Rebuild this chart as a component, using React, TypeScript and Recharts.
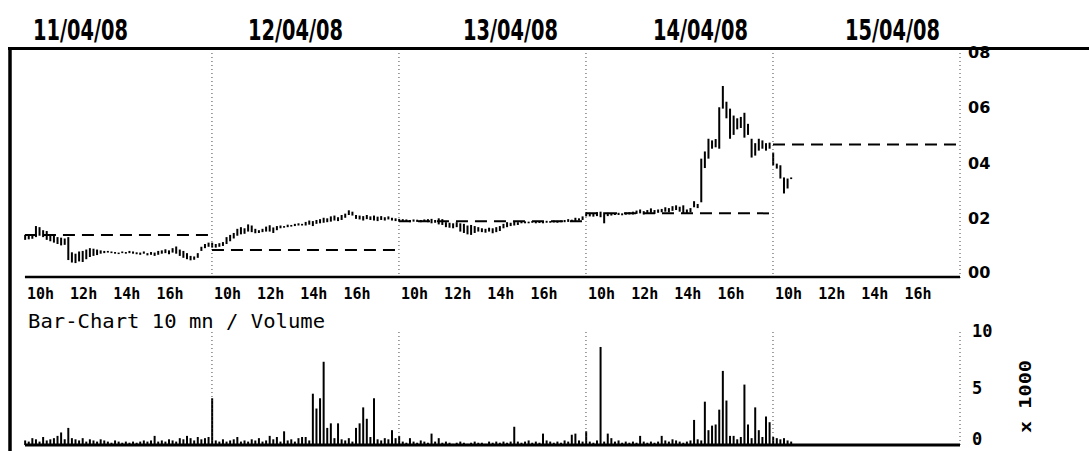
import { ComposedChart, Bar, XAxis, YAxis, ReferenceLine } from 'recharts';

// header dates and axis labels
const dates = ['11/04/08', '12/04/08', '13/04/08', '14/04/08', '15/04/08'];
const hourLabels = ['10h', '12h', '14h', '16h'];
const priceTicks = [0, 2, 4, 6, 8];
const priceLabels = ['00', '02', '04', '06', '08'];
const volumeTicks = [0, 5, 10];
const volumeLabels = ['0', '5', '10'];

const BARS_PER_DAY = 52; // 10 mn bars

// 10 mn bars, high / low, day by day
const highs = [
  1.38, 1.40, 1.36, 1.70, 1.66, 1.55, 1.52, 1.40, 1.35, 1.30, 1.28, 1.25, 1.30, 0.75, 0.70, 0.78, 0.80, 0.85, 0.90, 0.88,
  0.85, 0.82, 0.80, 0.80, 0.78, 0.76, 0.74, 0.78, 0.76, 0.80, 0.78, 0.75, 0.74, 0.78, 0.72, 0.76, 0.74, 0.80, 0.82, 0.86,
  0.82, 0.90, 0.96, 0.85, 0.80, 0.72, 0.62, 0.60, 0.72, 0.95, 1.05, 1.10,
  1.10, 1.05, 1.08, 1.12, 1.30, 1.38, 1.45, 1.60, 1.66, 1.62, 1.76, 1.72, 1.60, 1.55, 1.60, 1.68, 1.73, 1.65, 1.70, 1.72,
  1.70, 1.75, 1.74, 1.78, 1.80, 1.78, 1.85, 1.90, 1.88, 1.92, 1.95, 2.00, 1.98, 2.05, 2.08, 2.02, 2.10, 2.15, 2.27, 2.22,
  2.10, 2.08, 2.06, 2.10, 2.05, 2.08, 2.04, 2.06, 2.02, 2.05, 2.00, 1.98,
  1.96, 1.95, 1.94, 1.92, 1.94, 1.93, 1.92, 1.94, 1.95, 1.96, 1.92, 1.98, 1.95, 1.84, 1.82, 1.80, 1.84, 1.80, 1.78, 1.72,
  1.74, 1.70, 1.66, 1.62, 1.60, 1.64, 1.62, 1.66, 1.70, 1.78, 1.84, 1.82, 1.86, 1.84, 1.88, 1.87, 1.86, 1.88, 1.86, 1.88,
  1.87, 1.89, 1.88, 1.90, 1.89, 1.90, 1.92, 1.95, 1.93, 2.00, 1.98, 2.05,
  2.20, 2.18, 2.15, 2.20, 2.22, 2.20, 2.18, 2.16, 2.17, 2.18, 2.16, 2.19, 2.20, 2.22, 2.26, 2.30, 2.24, 2.28, 2.34, 2.28,
  2.30, 2.32, 2.38, 2.35, 2.42, 2.45, 2.40, 2.45, 2.30, 2.35, 2.60, 2.50, 4.14, 4.40, 4.86, 4.80, 4.85, 6.00, 6.77, 6.20,
  5.95, 5.70, 5.60, 5.65, 5.80, 5.40, 4.86, 4.70, 4.86, 4.80, 4.70, 4.72,
  4.36, 3.96, 3.90, 3.46, 3.42, 3.46,
];

const lows = [
  1.20, 1.22, 1.24, 1.30, 1.35, 1.30, 1.20, 1.15, 1.10, 1.05, 1.00, 1.02, 0.47, 0.38, 0.36, 0.42, 0.40, 0.50, 0.58, 0.62,
  0.65, 0.70, 0.72, 0.74, 0.72, 0.70, 0.70, 0.72, 0.70, 0.72, 0.70, 0.68, 0.66, 0.70, 0.64, 0.66, 0.62, 0.66, 0.70, 0.72,
  0.68, 0.74, 0.70, 0.62, 0.55, 0.50, 0.46, 0.48, 0.55, 0.80, 0.90, 0.95,
  0.92, 0.92, 0.95, 0.98, 1.05, 1.15, 1.25, 1.35, 1.40, 1.42, 1.50, 1.48, 1.44, 1.45, 1.48, 1.50, 1.50, 1.45, 1.55, 1.62,
  1.64, 1.66, 1.68, 1.70, 1.72, 1.72, 1.72, 1.75, 1.70, 1.78, 1.80, 1.82, 1.84, 1.86, 1.90, 1.88, 1.92, 2.00, 2.10, 2.08,
  1.96, 1.94, 1.90, 1.95, 1.92, 1.90, 1.88, 1.92, 1.90, 1.94, 1.90, 1.88,
  1.86, 1.85, 1.86, 1.84, 1.86, 1.85, 1.84, 1.86, 1.84, 1.80, 1.82, 1.76, 1.74, 1.66, 1.64, 1.62, 1.66, 1.50, 1.45, 1.40,
  1.38, 1.45, 1.50, 1.48, 1.46, 1.50, 1.44, 1.48, 1.52, 1.62, 1.66, 1.70, 1.72, 1.74, 1.80, 1.80, 1.80, 1.82, 1.80, 1.81,
  1.80, 1.82, 1.82, 1.83, 1.82, 1.84, 1.84, 1.85, 1.86, 1.88, 1.90, 1.92,
  2.05, 2.05, 2.04, 2.06, 2.02, 1.80, 2.06, 2.08, 2.10, 2.10, 2.09, 2.11, 2.12, 2.12, 2.14, 2.16, 2.12, 2.16, 2.18, 2.14,
  2.18, 2.20, 2.22, 2.20, 2.25, 2.28, 2.22, 2.16, 2.15, 2.20, 2.38, 2.35, 2.56, 3.80, 4.14, 4.50, 4.55, 4.50, 5.95, 5.60,
  4.86, 5.00, 5.20, 5.25, 4.90, 5.00, 4.18, 4.25, 4.43, 4.50, 4.43, 4.50,
  3.90, 3.78, 3.42, 2.88, 3.06, 3.40,
];

// volume per bar, x 1000
const volumes = [
  0.4, 0.3, 0.6, 0.5, 0.3, 0.7, 0.4, 0.5, 0.6, 0.8, 1.1, 0.5, 1.5, 0.6, 0.5, 0.4, 0.6, 0.3, 0.5, 0.4,
  0.3, 0.5, 0.4, 0.3, 0.2, 0.4, 0.3, 0.2, 0.3, 0.2, 0.3, 0.2, 0.3, 0.4, 0.3, 0.4, 0.8, 0.3, 0.4, 0.3,
  0.5, 0.4, 0.3, 0.6, 0.5, 0.8, 0.6, 0.4, 0.7, 0.5, 0.6, 0.7,
  4.1, 0.4, 0.3, 0.5, 0.3, 0.4, 0.5, 0.7, 0.3, 0.4, 0.3, 0.5, 0.4, 0.6, 0.3, 0.4, 0.8, 0.5, 0.7, 0.3,
  1.2, 0.4, 0.5, 0.3, 0.6, 0.7, 0.7, 0.4, 4.5, 3.2, 4.1, 7.3, 1.5, 1.9, 0.6, 1.9, 0.5, 0.4, 0.6, 0.3,
  1.5, 1.9, 3.3, 2.3, 0.7, 4.1, 0.5, 0.4, 0.6, 0.5, 1.3, 0.6,
  0.8, 0.3, 0.2, 0.6, 0.3, 0.2, 0.4, 0.3, 0.2, 1.0, 0.3, 0.6, 0.2, 0.3, 0.2, 0.1, 0.2, 0.3, 0.2, 0.1,
  0.2, 0.3, 0.2, 0.2, 0.1, 0.3, 0.2, 0.3, 0.2, 0.3, 0.2, 0.3, 1.6, 0.3, 0.2, 0.3, 0.4, 0.2, 0.3, 0.2,
  1.0, 0.4, 0.3, 0.2, 0.3, 0.2, 0.4, 0.3, 0.9, 1.0, 0.4, 0.3,
  1.2, 0.3, 0.2, 0.4, 8.6, 0.3, 1.0, 0.6, 0.3, 0.4, 0.2, 0.3, 0.2, 0.3, 0.2, 0.8, 0.3, 0.2, 0.3, 0.2,
  0.3, 0.8, 0.4, 0.3, 0.5, 0.4, 0.3, 0.2, 0.3, 0.4, 2.2, 0.5, 0.4, 3.8, 1.3, 1.7, 1.8, 3.1, 6.5, 3.9,
  0.8, 0.8, 0.5, 0.7, 5.3, 1.8, 0.6, 3.3, 1.3, 0.7, 2.5, 2.0,
  0.7, 0.6, 0.5, 0.6, 0.4, 0.3,
];

// previous close, drawn dashed across each day
const prevCloses = [1.38, 0.83, 1.87, 2.16, 4.65];

const rows = highs.map((h, i) => ({ t: i, range: [lows[i], h], volume: volumes[i] }));

const dayStarts = dates.map((_, d) => d * BARS_PER_DAY);
const dayEnds = dayStarts.map((s) => s + BARS_PER_DAY);
const hourTicks = dayStarts.flatMap((s) => hourLabels.map((_, k) => s + k * 12));
const xDomain = [-3.6, dates.length * BARS_PER_DAY];

const mono = "'DejaVu Sans Mono', monospace";
const W = 1089;

const HourTick = (props: any) => {
  const { x, payload } = props;
  const k = Math.round((payload.value % BARS_PER_DAY) / 12);
  return (
    <text x={x + 2} y={299} fontFamily={mono} fontWeight="bold" fontSize={15} fill="#000">
      {hourLabels[k]}
    </text>
  );
};

const PriceTick = (props: any) => {
  const { y, payload } = props;
  return (
    <text x={968} y={Math.min(y + 6, 278)} fontFamily="'DejaVu Sans', sans-serif" fontWeight="bold" fontSize={16} fill="#000">
      {priceLabels[priceTicks.indexOf(payload.value)]}
    </text>
  );
};

const VolumeTick = (props: any) => {
  const { y, payload } = props;
  return (
    <text x={972} y={Math.min(y + 6, 145)} fontFamily={mono} fontWeight="bold" fontSize={17} fill="#000">
      {volumeLabels[volumeTicks.indexOf(payload.value)]}
    </text>
  );
};

const PriceBar = (props: any) => {
  const { x, y, width, height } = props;
  if (x == null || y == null) return null;
  return <rect x={x + width / 2 - 1} y={y} width={2} height={Math.max(height, 1.5)} fill="#000" />;
};

export default function App() {
  return (
    <div style={{ position: 'absolute', left: 0, top: 0, width: W, height: 451, background: '#fff', overflow: 'hidden' }}>
      <div style={{ position: 'absolute', left: 0, top: 0 }}>
        <ComposedChart width={W} height={308} data={rows} margin={{ top: 52, right: 0, bottom: 8, left: 12 }}>
          <XAxis
            type="number"
            dataKey="t"
            domain={xDomain}
            allowDataOverflow
            ticks={hourTicks}
            interval={0}
            height={22}
            axisLine={false}
            tickLine={false}
            tick={<HourTick />}
          />
          <YAxis
            orientation="right"
            width={129}
            domain={[-0.18, 8]}
            allowDataOverflow
            ticks={priceTicks}
            interval={0}
            axisLine={false}
            tickLine={false}
            tick={<PriceTick />}
          />
          {dayEnds.map((e) => (
            <ReferenceLine key={`dv${e}`} x={e} stroke="#444" strokeDasharray="1 3" ifOverflow="visible" />
          ))}
          {prevCloses.map((c, d) => (
            <ReferenceLine
              key={`pc${d}`}
              segment={[{ x: dayStarts[d], y: c }, { x: dayEnds[d], y: c }]}
              stroke="#000"
              strokeWidth={2}
              strokeDasharray="12 7"
            />
          ))}
          <ReferenceLine
            segment={[{ x: 0, y: -0.14 }, { x: dayEnds[dayEnds.length - 1], y: -0.14 }]}
            stroke="#000"
            strokeWidth={2.5}
            ifOverflow="visible"
          />
          <Bar dataKey="range" barSize={2} shape={<PriceBar />} isAnimationActive={false} />
        </ComposedChart>
      </div>
      <div style={{ position: 'absolute', left: 0, top: 300 }}>
        <ComposedChart width={W} height={151} data={rows} margin={{ top: 31, right: 0, bottom: 6, left: 12 }}>
          <XAxis type="number" dataKey="t" domain={xDomain} allowDataOverflow hide />
          <YAxis
            orientation="right"
            width={129}
            domain={[0, 10]}
            ticks={volumeTicks}
            interval={0}
            axisLine={false}
            tickLine={false}
            tick={<VolumeTick />}
          />
          {dayEnds.map((e) => (
            <ReferenceLine key={`vv${e}`} x={e} stroke="#444" strokeDasharray="1 3" />
          ))}
          <Bar dataKey="volume" barSize={2} fill="#000" isAnimationActive={false} />
          <ReferenceLine
            segment={[{ x: 0, y: 0 }, { x: dayEnds[dayEnds.length - 1], y: 0 }]}
            stroke="#000"
            strokeWidth={3}
            ifOverflow="visible"
          />
        </ComposedChart>
      </div>
      <svg width={W} height={451} style={{ position: 'absolute', left: 0, top: 0, pointerEvents: 'none' }}>
        {dates.map((d, i) => {
          const lefts = [33, 248, 463, 653, 845];
          return (
            <text
              key={d}
              x={lefts[i]}
              y={40}
              fontFamily="'DejaVu Sans Condensed', 'Liberation Sans Narrow', 'DejaVu Sans', sans-serif"
              fontWeight="bold"
              fontSize={29}
              textLength={95}
              lengthAdjust="spacingAndGlyphs"
              fill="#000"
            >
              {d}
            </text>
          );
        })}
        <line x1={8} y1={48.5} x2={W} y2={48.5} stroke="#000" strokeWidth={3} />
        <line x1={10} y1={47} x2={10} y2={451} stroke="#000" strokeWidth={3.5} />
        <text x={28} y={328} fontFamily={mono} fontSize={20} textLength={297} lengthAdjust="spacingAndGlyphs" fill="#000">
          Bar-Chart 10 mn / Volume
        </text>
        <text
          x={0}
          y={0}
          transform="translate(1031 433) rotate(-90)"
          fontFamily={mono}
          fontWeight="bold"
          fontSize={16}
          textLength={73}
          lengthAdjust="spacingAndGlyphs"
          fill="#000"
        >
          x 1000
        </text>
      </svg>
    </div>
  );
}
